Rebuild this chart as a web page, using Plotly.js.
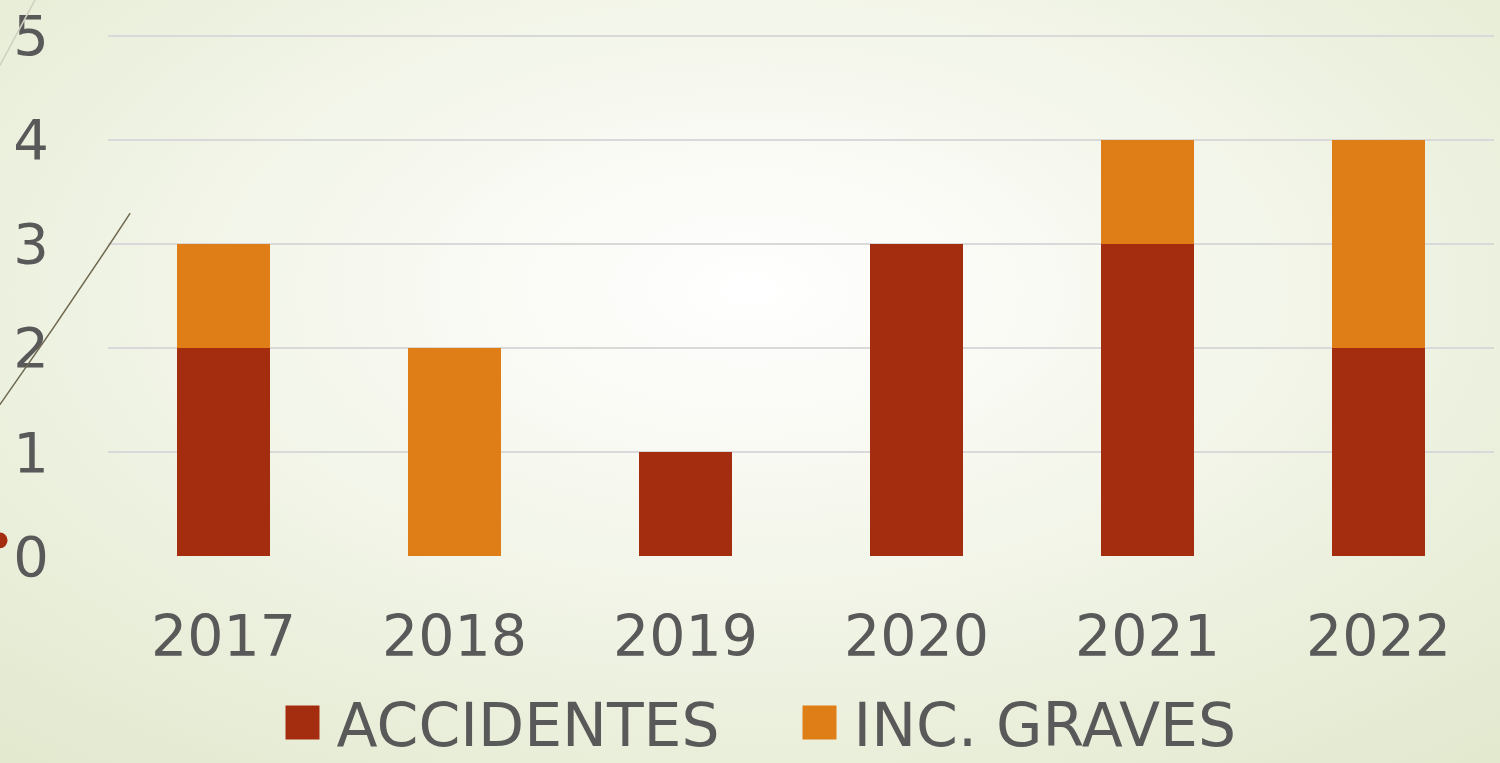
<!DOCTYPE html>
<html>
<head>
<meta charset="utf-8">
<script src="https://cdn.plot.ly/plotly-3.0.1.min.js"></script>
<style>
  html, body { margin: 0; padding: 0; }
  body {
    width: 1500px; height: 763px; overflow: hidden;
    background: radial-gradient(ellipse 75% 80% at 50% 38%, #ffffff 0%, #f6f8ef 35%, #eaefdb 75%, #e3e9cf 100%);
  }
  #chart { width: 1500px; height: 763px; }
</style>
</head>
<body>
<div id="chart"></div>
<script>
var years = ['2017', '2018', '2019', '2020', '2021', '2022'];
var accidentes = [2, 0, 1, 3, 3, 2];
var incGraves = [1, 2, 0, 0, 1, 2];
var yTicks = [0, 1, 2, 3, 4, 5];

var fontFamily = 'DejaVu Sans, sans-serif';
var textColor = '#595959';

var traces = [
  {
    type: 'bar',
    name: 'ACCIDENTES',
    x: years,
    y: accidentes,
    marker: {color: '#a52d0f'},
    hoverinfo: 'none'
  },
  {
    type: 'bar',
    name: 'INC. GRAVES',
    x: years,
    y: incGraves,
    marker: {color: '#df7e17'},
    hoverinfo: 'none'
  }
];

var layout = {
  width: 1500,
  height: 763,
  barmode: 'stack',
  bargap: 0.6,
  paper_bgcolor: 'rgba(0,0,0,0)',
  plot_bgcolor: 'rgba(0,0,0,0)',
  margin: {l: 108, r: 6, t: 34, b: 207},
  font: {family: fontFamily, color: textColor, size: 56},
  showlegend: true,
  legend: {
    orientation: 'h',
    xref: 'container', yref: 'container',
    x: 0.533, xanchor: 'center',
    y: 0, yanchor: 'bottom',
    font: {size: 60, color: textColor},
    entrywidth: 472,
    traceorder: 'normal',
    itemclick: false
  },
  xaxis: {
    type: 'category',
    showgrid: false,
    zeroline: false,
    showline: false,
    ticks: '',
    ticklabelstandoff: 42,
    tickfont: {size: 57, color: textColor}
  },
  yaxis: {
    range: [0, 5.015],
    tickvals: yTicks,
    showgrid: true,
    gridcolor: '#d9d9d9',
    gridwidth: 2,
    zeroline: false,
    showline: false,
    ticks: '',
    ticklabelstandoff: 58,
    tickfont: {size: 56, color: textColor}
  },
  shapes: [
    // slide decorations on the left edge
    {type: 'path', xref: 'paper', yref: 'paper',
     path: 'M -0.078,0.29 Q -0.03,0.47 0.016,0.657',
     line: {color: '#6e6850', width: 1.5}},
    {type: 'line', xref: 'paper', yref: 'paper',
     x0: -0.078, y0: 0.94, x1: -0.0527, y1: 1.065,
     line: {color: '#cfd0c2', width: 1.5}},
    {type: 'circle', xref: 'paper', yref: 'paper',
     x0: -0.0835, y0: 0.015, x1: -0.0725, y1: 0.045,
     fillcolor: '#a52d0f', line: {width: 0}}
  ]
};

Plotly.newPlot('chart', traces, layout, {displayModeBar: false, staticPlot: true}).then(function (gd) {
  // bigger square swatches in the legend, with the text moved to keep a gap
  gd.querySelectorAll('.legend .legendpoints path').forEach(function (p) {
    p.setAttribute('d', 'M17,17H-17V-17H17Z');
  });
  gd.querySelectorAll('.legend .legendtext').forEach(function (t) {
    var x = parseFloat(t.getAttribute('x')) || 0;
    t.setAttribute('x', x + 14);
  });
  // nudge the legend a bit lower, as in the original
  var leg = gd.querySelector('.legend');
  if (leg) {
    var m = /translate\(\s*([-\d.]+)[ ,]+([-\d.]+)\s*\)/.exec(leg.getAttribute('transform') || '');
    if (m) {
      leg.setAttribute('transform', 'translate(' + m[1] + ',' + (parseFloat(m[2]) + 5) + ')');
    }
  }
});
</script>
</body>
</html>
